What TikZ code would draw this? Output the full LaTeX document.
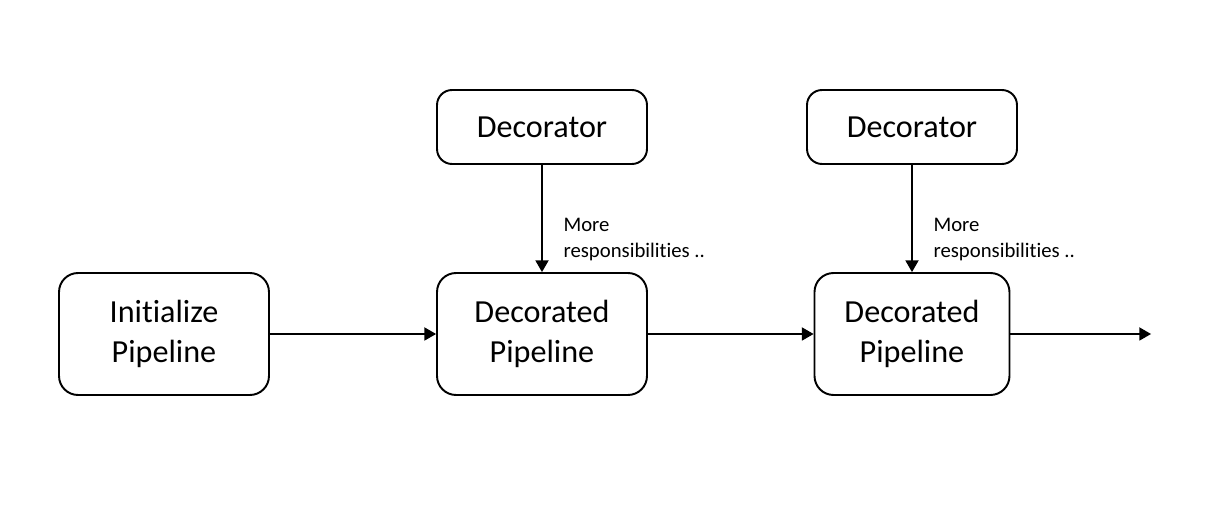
\documentclass[tikz,border=0pt]{standalone}
\usepackage{fontspec}
\setmainfont[Ligatures=NoCommon]{Carlito}
\usepackage{tikz}
\usetikzlibrary{arrows}

\tikzset{
  pipebox/.style={draw,line width=1.1pt,rounded corners=0.38cm,minimum width=4.2cm,minimum height=2.44cm,align=center,font=\fontsize{18.3}{22.7}\selectfont},
  decobox/.style={draw,line width=1.1pt,rounded corners=0.3cm,minimum width=4.2cm,minimum height=1.48cm,align=center,font=\fontsize{18.3}{22.7}\selectfont},
  flow/.style={line width=0.8pt,-triangle 60},
  note/.style={align=left,font=\fontsize{11.8}{14.7}\selectfont}
}

\begin{document}
\begin{tikzpicture}[x=0.02cm,y=-0.02cm]
\useasboundingbox (0,0) rectangle (1232,506);
%pipeline
\node[pipebox] (init) at (164,334) {Initialize\\Pipeline};
\node[pipebox] (pipeA) at (542,334) {Decorated\\Pipeline};
\node[pipebox,minimum width=3.9cm] (pipeB) at (912,334) {Decorated\\Pipeline};
\coordinate (out) at (1151,334);

%decorators
\node[decobox] (decoA) at (542,127) {Decorator};
\node[decobox] (decoB) at (912,127) {Decorator};

\draw[flow] (init) -- (pipeA);
\draw[flow] (pipeA) -- (pipeB);
\draw[flow] (pipeB) -- (out);

\draw[flow] (decoA) -- (pipeA) node[pos=0.7,right=0.3cm,note] (moreA) {More\\responsibilities ..};
\draw[flow] (decoB) -- (pipeB) node[pos=0.7,right=0.3cm,note] (moreB) {More\\responsibilities ..};

\end{tikzpicture}
\end{document}
